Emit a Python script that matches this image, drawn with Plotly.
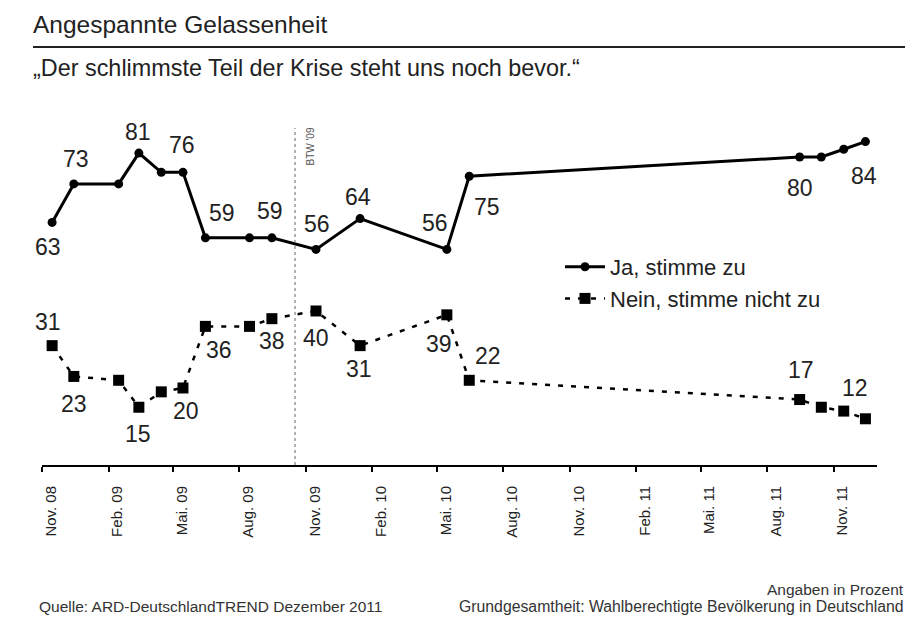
import plotly.graph_objects as go

# ---- data ----
dates = ["2008-11-15", "2008-12-15", "2009-02-15", "2009-03-15", "2009-04-15",
         "2009-05-15", "2009-06-15", "2009-08-15", "2009-09-15", "2009-11-15",
         "2010-01-15", "2010-05-15", "2010-06-15", "2011-09-15", "2011-10-15",
         "2011-11-15", "2011-12-15"]
ja = [63, 73, 73, 81, 76, 76, 59, 59, 59, 56, 64, 56, 75, 80, 80, 82, 84]
nein = [31, 23, 22, 15, 19, 20, 36, 36, 38, 40, 31, 39, 22, 17, 15, 14, 12]
ja_labeled = [1, 1, 0, 1, 0, 1, 1, 0, 1, 1, 1, 1, 1, 1, 0, 0, 1]
nein_labeled = [1, 1, 0, 1, 0, 1, 1, 0, 1, 1, 1, 1, 1, 1, 0, 0, 1]
tick_vals = ["2008-11-01", "2009-02-01", "2009-05-01", "2009-08-01", "2009-11-01",
             "2010-02-01", "2010-05-01", "2010-08-01", "2010-11-01", "2011-02-01",
             "2011-05-01", "2011-08-01", "2011-11-01"]
tick_text = ["Nov. 08", "Feb. 09", "Mai. 09", "Aug. 09", "Nov. 09", "Feb. 10", "Mai. 10",
             "Aug. 10", "Nov. 10", "Feb. 11", "Mai. 11", "Aug. 11", "Nov. 11"]
btw_date = "2009-10-17"

# ---- label offsets (pixels, style only) ----
ja_off = [(-4, 25), (2, -25), (0, 0), (-1, -21), (0, 0), (-1, -27), (17, -25), (0, 0),
          (-2, -27), (1, -25), (-2, -22), (-12, -26), (18, 31), (0, 31), (0, 0), (0, 0),
          (-1, 34)]
nein_off = [(-4, -24), (0, 28), (0, 0), (-1, 27), (0, 0), (3, 23), (14, 24), (0, 0),
            (0, 22), (0, 27), (-1, 23), (-8, 29), (19, -24), (1, -30), (0, 0), (0, 0),
            (-10, -31)]

FONT = "Arial, Liberation Sans, sans-serif"
TXT = "#222222"

fig = go.Figure()
fig.add_trace(go.Scatter(
    x=dates, y=ja, mode="lines+markers", name="Ja, stimme zu",
    line=dict(color="black", width=3),
    marker=dict(symbol="circle", size=9, color="black"),
))
fig.add_trace(go.Scatter(
    x=dates, y=nein, mode="lines+markers", name="Nein, stimme nicht zu",
    line=dict(color="black", width=2.5, dash="5px,8px"),
    marker=dict(symbol="square", size=11, color="black"),
))

W, H = 907, 618
L, R, T, B = 42, 30, 120, 153
pw, ph = W - L - R, H - T - B


def px(xs):
    return (xs - L) / pw


def py(ys):
    return (H - B - ys) / ph


fig.add_shape(type="line", xref="x", yref="paper", x0=btw_date, x1=btw_date,
              y0=0, y1=py(128), line=dict(color="#666666", width=1, dash="dot"))
fig.add_shape(type="line", xref="paper", yref="paper", x0=px(33), x1=px(905),
              y0=py(47), y1=py(47), line=dict(color="#222222", width=2))

annotations = []
for series, flags, offs in ((ja, ja_labeled, ja_off), (nein, nein_labeled, nein_off)):
    for d, v, f, (dx, dy) in zip(dates, series, flags, offs):
        if f:
            annotations.append(dict(
                x=d, y=v, xref="x", yref="y", text=str(v), showarrow=False,
                xanchor="center", yanchor="middle", xshift=dx, yshift=-dy,
                font=dict(family=FONT, size=23, color=TXT)))

annotations += [
    dict(x=btw_date, xref="x", y=py(126), yref="paper", text="BTW '09", textangle=-90,
         showarrow=False, xanchor="left", yanchor="top", xshift=7,
         font=dict(family=FONT, size=10, color="#555555")),
    dict(x=px(31), y=py(24), xref="paper", yref="paper", text="Angespannte Gelassenheit",
         showarrow=False, xanchor="left", yanchor="middle",
         font=dict(family=FONT, size=24.5, color=TXT)),
    dict(x=px(31), y=py(68), xref="paper", yref="paper",
         text="\u201eDer schlimmste Teil der Krise steht uns noch bevor.\u201c",
         showarrow=False, xanchor="left", yanchor="middle",
         font=dict(family=FONT, size=23.4, color=TXT)),
    dict(x=px(37), y=py(606), xref="paper", yref="paper",
         text="Quelle: ARD-DeutschlandTREND Dezember 2011",
         showarrow=False, xanchor="left", yanchor="middle",
         font=dict(family=FONT, size=15.5, color="#333333")),
    dict(x=px(906), y=py(589), xref="paper", yref="paper", text="Angaben in Prozent",
         showarrow=False, xanchor="right", yanchor="middle",
         font=dict(family=FONT, size=15.5, color="#333333")),
    dict(x=px(906), y=py(606), xref="paper", yref="paper",
         text="Grundgesamtheit: Wahlberechtigte Bevölkerung in Deutschland",
         showarrow=False, xanchor="right", yanchor="middle",
         font=dict(family=FONT, size=15.8, color="#333333")),
]

fig.update_layout(
    width=W, height=H,
    margin=dict(l=L, r=R, t=T, b=B, pad=0),
    paper_bgcolor="white", plot_bgcolor="white",
    font=dict(family=FONT, color=TXT),
    showlegend=True,
    legend=dict(x=px(560), y=py(246), xanchor="left", yanchor="top",
                bgcolor="rgba(0,0,0,0)", font=dict(family=FONT, size=22, color=TXT),
                itemwidth=40, tracegroupgap=0),
    annotations=annotations,
    xaxis=dict(type="date", range=["2008-11-01", "2011-12-31"], tickmode="array",
               tickvals=tick_vals, ticktext=tick_text, tickangle=-90,
               ticks="outside", ticklen=5, tickcolor="black", tickwidth=1.5,
               showline=True, linecolor="black", linewidth=2, showgrid=False,
               zeroline=False, ticklabelshift=9, ticklabelstandoff=8,
               tickfont=dict(family=FONT, size=15, color=TXT)),
    yaxis=dict(range=[0, 89.6], visible=False, showgrid=False, zeroline=False),
)

fig.write_html("out.html",
               config={"displayModeBar": False},
               post_script="document.body.style.margin='0';"
                           "document.body.style.overflow='hidden';")
